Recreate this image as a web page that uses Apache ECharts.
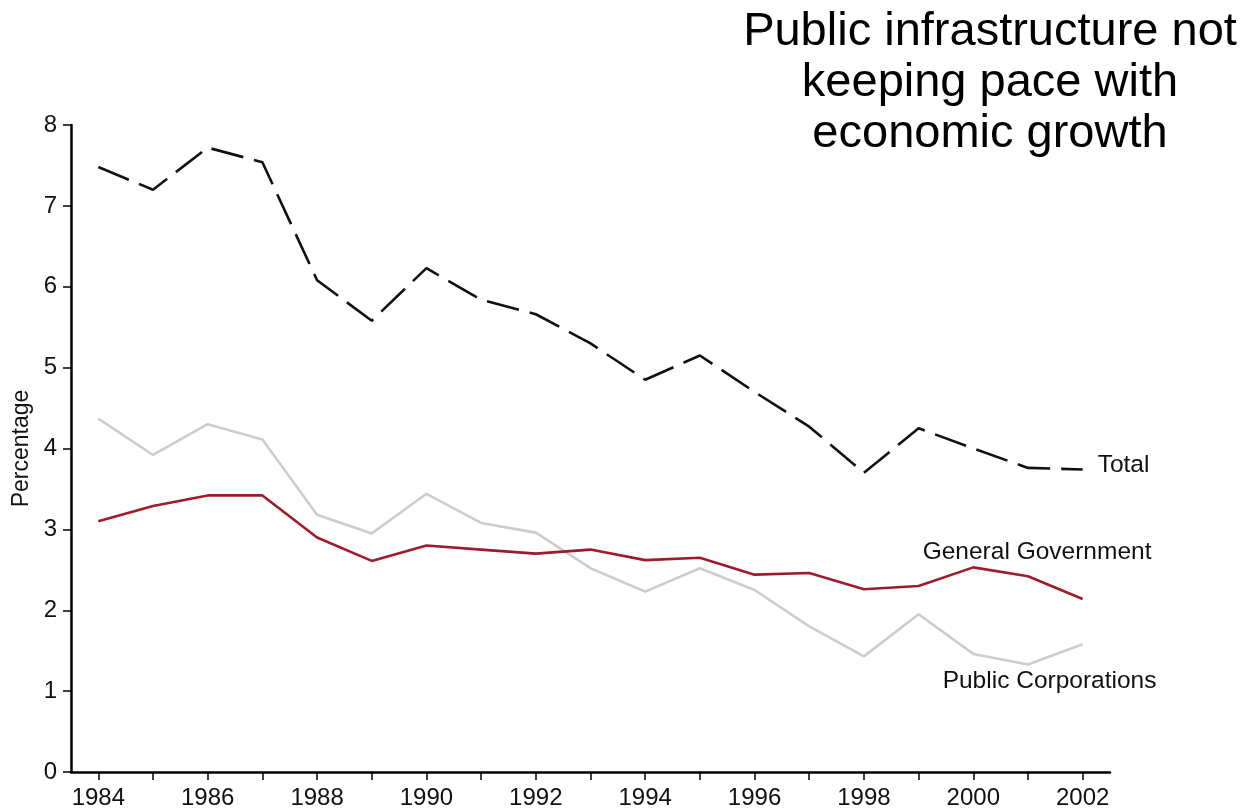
<!DOCTYPE html>
<html>
<head>
<meta charset="utf-8">
<title>Public infrastructure not keeping pace with economic growth</title>
<script src="https://cdn.jsdelivr.net/npm/echarts@6/dist/echarts.min.js"></script>
<style>
  html, body { margin: 0; padding: 0; background: #ffffff; }
  #chart { width: 1251px; height: 810px; }
</style>
</head>
<body>
<div id="chart"></div>
<script>
// Public investment as a percentage, 1984-2002
const years = ['1984','1985','1986','1987','1988','1989','1990','1991','1992','1993',
               '1994','1995','1996','1997','1998','1999','2000','2001','2002'];
const total = [7.48, 7.20, 7.72, 7.54, 6.08, 5.58, 6.23, 5.84, 5.66, 5.30,
               4.85, 5.15, 4.70, 4.27, 3.70, 4.25, 4.00, 3.76, 3.74];
const generalGovernment = [3.10, 3.29, 3.42, 3.42, 2.90, 2.61, 2.80, 2.75, 2.70, 2.75,
                           2.62, 2.65, 2.44, 2.46, 2.26, 2.30, 2.53, 2.42, 2.14];
const publicCorporations = [4.37, 3.92, 4.30, 4.11, 3.18, 2.95, 3.44, 3.08, 2.96, 2.52,
                            2.23, 2.52, 2.25, 1.80, 1.43, 1.95, 1.46, 1.33, 1.58];
const yTicks = { min: 0, max: 8, step: 1 };
const titleLines = ['Public infrastructure not', 'keeping pace with', 'economic growth'];

const FONT = '"Liberation Sans", Arial, Helvetica, sans-serif';

const chart = echarts.init(document.getElementById('chart'), null, { renderer: 'canvas' });

chart.setOption({
  backgroundColor: '#ffffff',
  animation: false,
  textStyle: { fontFamily: FONT },
  grid: { left: 71, right: 141, top: 125, bottom: 38, containLabel: false },
  graphic: [{
    type: 'text',
    x: 990,
    y: 7,
    style: {
      text: titleLines.join('\n'),
      textAlign: 'center',
      textVerticalAlign: 'top',
      font: '47px ' + FONT,
      lineHeight: 51,
      fill: '#000000'
    }
  }],
  xAxis: {
    type: 'category',
    data: years,
    boundaryGap: true,
    axisLine: { lineStyle: { color: '#000000', width: 2.5 } },
    axisTick: { show: true, interval: 0, alignWithLabel: true, length: 8,
                lineStyle: { color: '#000000', width: 1.5 } },
    axisLabel: { interval: 1, color: '#111111', fontSize: 24, margin: 14, fontFamily: FONT },
    splitLine: { show: false }
  },
  yAxis: {
    type: 'value',
    min: yTicks.min,
    max: yTicks.max,
    interval: yTicks.step,
    name: 'Percentage',
    nameLocation: 'middle',
    nameRotate: 90,
    nameGap: 34,
    nameTextStyle: { color: '#111111', fontSize: 23, fontFamily: FONT },
    axisLine: { show: true, lineStyle: { color: '#000000', width: 2.5 } },
    axisTick: { show: true, length: 8, lineStyle: { color: '#000000', width: 1.5 } },
    axisLabel: { color: '#111111', fontSize: 24, margin: 14, fontFamily: FONT },
    splitLine: { show: false }
  },
  series: [
    {
      name: 'Total',
      type: 'line',
      data: total,
      showSymbol: false,
      symbol: 'none',
      lineStyle: { color: '#111111', width: 2.6, type: [33, 11] },
      endLabel: {
        show: true, formatter: 'Total', color: '#111111', fontSize: 24.5,
        fontFamily: FONT, distance: 15, offset: [0, -4]
      },
      z: 3
    },
    {
      name: 'General Government',
      type: 'line',
      data: generalGovernment,
      showSymbol: false,
      symbol: 'none',
      lineStyle: { color: '#9e1b2e', width: 2.6 },
      endLabel: {
        show: true, formatter: 'General Government', color: '#111111', fontSize: 24.5,
        fontFamily: FONT, distance: 0, offset: [-160, -47]
      },
      z: 2
    },
    {
      name: 'Public Corporations',
      type: 'line',
      data: publicCorporations,
      showSymbol: false,
      symbol: 'none',
      lineStyle: { color: '#cccccc', width: 2.6 },
      endLabel: {
        show: true, formatter: 'Public Corporations', color: '#111111', fontSize: 24.5,
        fontFamily: FONT, distance: 0, offset: [-140, 37]
      },
      z: 1
    }
  ]
});
</script>
</body>
</html>
